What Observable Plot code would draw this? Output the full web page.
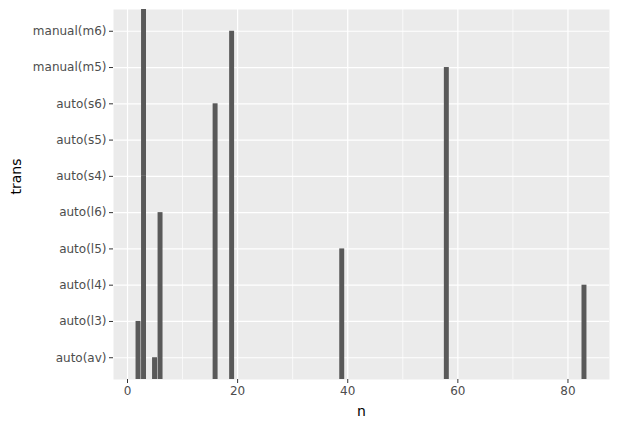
<!DOCTYPE html>
<html>
<head>
<meta charset="utf-8">
<script src="https://cdn.jsdelivr.net/npm/d3@7"></script>
<script src="https://cdn.jsdelivr.net/npm/@observablehq/plot@0.6"></script>
<style>
  html, body { margin: 0; padding: 0; background: #fff; }
</style>
</head>
<body>
<div id="chart"></div>
<script>
const trans = ["auto(av)","auto(l3)","auto(l4)","auto(l5)","auto(l6)","auto(s4)","auto(s5)","auto(s6)","manual(m5)","manual(m6)"];
const counts = [5, 2, 83, 39, 6, 3, 3, 16, 58, 19];
const xMajor = [0, 20, 40, 60, 80];
const xMinor = [10, 30, 50, 70];

// discrete y positions stacked at identical n (as position_stack does)
const acc = new Map();
const rows = trans.map((t, i) => {
  const pos = i + 1;
  const n = counts[i];
  const base = acc.get(n) || 0;
  acc.set(n, base + pos);
  return {trans: t, n, y1: base, y2: base + pos};
});
const positions = trans.map((t, i) => i + 1);

const chart = Plot.plot({
  width: 619,
  height: 430,
  marginLeft: 113,
  marginRight: 10,
  marginTop: 9,
  marginBottom: 51,
  style: {fontFamily: "DejaVu Sans", fontSize: "12px", background: "#fff"},
  x: {domain: [-2.545, 87.545]},
  y: {domain: [0.4, 10.6]},
  marks: [
    Plot.frame({fill: "#EBEBEB", stroke: null}),
    Plot.ruleX(xMinor, {stroke: "white", strokeWidth: 0.7}),
    Plot.ruleX(xMajor, {stroke: "white", strokeWidth: 1.2}),
    Plot.ruleY(positions, {stroke: "white", strokeWidth: 1.2}),
    Plot.rect(rows, {x1: d => d.n - 0.45, x2: d => d.n + 0.45, y1: "y1", y2: "y2", fill: "#595959", clip: true}),
    Plot.axisX({ticks: xMajor, tickSize: 4, tickPadding: 3, stroke: "#333", color: "#4D4D4D", fontSize: 12, label: null}),
    Plot.axisY({ticks: positions, tickFormat: p => trans[p - 1], tickSize: 4, tickPadding: 3, stroke: "#333", color: "#4D4D4D", fontSize: 12, label: null}),
    Plot.text(["n"], {frameAnchor: "bottom", dy: 36, fontSize: 14, fill: "black"}),
    Plot.text(["trans"], {frameAnchor: "left", dx: -97, rotate: -90, fontSize: 14, fill: "black"})
  ]
});
document.getElementById("chart").appendChild(chart);
</script>
</body>
</html>
